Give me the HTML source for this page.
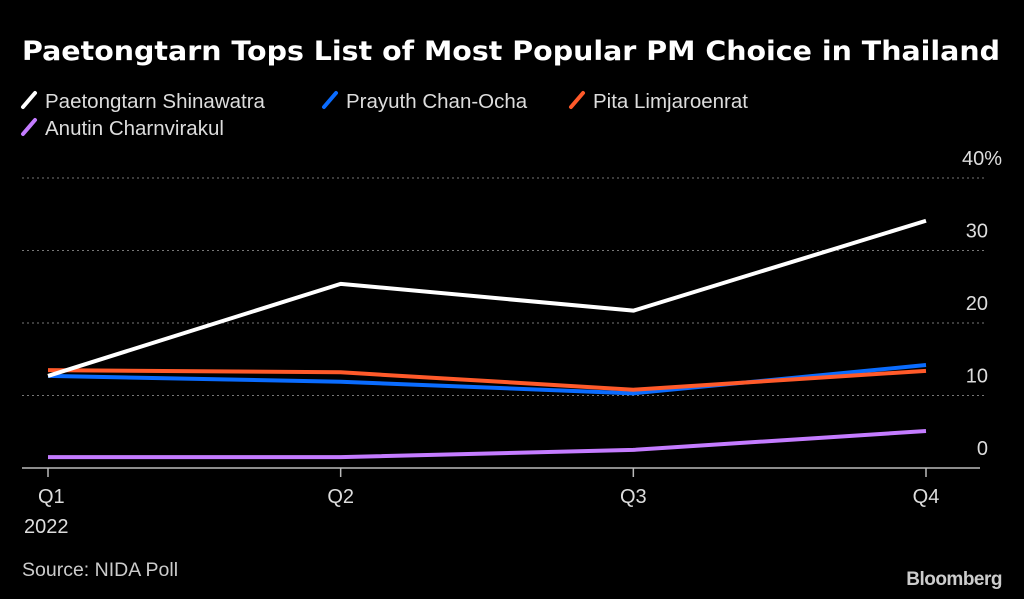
<!DOCTYPE html>
<html><head><meta charset="utf-8"><style>
body{margin:0;background:#000;width:1024px;height:599px;overflow:hidden;font-family:"Liberation Sans",sans-serif;color:#ddd}
</style></head><body>
<svg width="1024" height="599" style="position:absolute;left:0;top:0">
<text x="22" y="60" font-family="DejaVu Sans, sans-serif" font-weight="bold" font-size="27" fill="#fff" textLength="978" lengthAdjust="spacingAndGlyphs">Paetongtarn Tops List of Most Popular PM Choice in Thailand</text>
<g id="legend" font-family="Liberation Sans, sans-serif" font-size="20.5" fill="#ddd"></g>
<g id="grid"></g><g id="lines"></g>
<text x="22" y="576" font-size="19.5" fill="#ccc" font-family="Liberation Sans, sans-serif">Source: NIDA Poll</text>
<text x="1002" y="585" text-anchor="end" font-size="19" font-weight="bold" fill="#ccc" font-family="Liberation Sans, sans-serif" letter-spacing="-0.5">Bloomberg</text>
</svg>
<script>
const categories=["Q1","Q2","Q3","Q4"];
const yTicks=[0,10,20,30,40];
const seriesNames=["Paetongtarn Shinawatra","Prayuth Chan-Ocha","Pita Limjaroenrat","Anutin Charnvirakul"];
const paetongtarn=[12.7,25.4,21.7,34.1];
const prayuth=[12.7,11.9,10.3,14.2];
const pita=[13.5,13.2,10.8,13.4];
const anutin=[1.5,1.5,2.5,5.1];
const colors=["#ffffff","#0a6cff","#ff5a2a","#c47cff"];
const NS="http://www.w3.org/2000/svg";
function X(i){return 48+i*(926-48)/3;}
function Y(v){return 468-v*7.25;}
function mk(t,a,p){const e=document.createElementNS(NS,t);for(const k in a)e.setAttribute(k,a[k]);p.appendChild(e);return e;}
const grid=document.getElementById('grid');
yTicks.forEach(v=>{
 if(v>0){const l=mk('line',{x1:22,x2:987,y1:Y(v),y2:Y(v),stroke:'#777','stroke-dasharray':'2,3','stroke-width':1},grid);
 
 }
 const t=mk('text',{x:v===40?1002:988,y:Y(v)-13,'text-anchor':'end','font-size':20,fill:'#ddd','font-family':'Liberation Sans, sans-serif'},grid);
 t.textContent=v===40?'40%':String(v);
 
 
});
const base=mk('line',{x1:22,x2:980,y1:468,y2:468,stroke:'#bbb','stroke-width':1.5},grid);


categories.forEach((c,i)=>{
 const tk=mk('line',{x1:X(i),x2:X(i),y1:468,y2:477,stroke:'#bbb','stroke-width':1.5},grid);
 
 
 const t=mk('text',{x:X(i)+(i==0?-10:0),y:503,'text-anchor':i==0?'start':'middle','font-size':20,fill:'#ddd','font-family':'Liberation Sans, sans-serif'},grid);
 t.textContent=c;
 
 
});
const yr=mk('text',{x:24,y:533,'font-size':20,fill:'#ddd','font-family':'Liberation Sans, sans-serif'},grid);
yr.textContent='2022';


const data=[paetongtarn,prayuth,pita,anutin];
const lines=document.getElementById('lines');
[3,1,2,0].forEach(s=>{
 const p=mk('polyline',{points:data[s].map((v,i)=>X(i)+','+Y(v)).join(' '),fill:'none',stroke:colors[s],'stroke-width':4,'stroke-linejoin':'round'},lines);
 
 
});
const lg=document.getElementById('legend');
const pos=[[22,102],[323,102],[570,102],[22,129]];
seriesNames.forEach((n,s)=>{
 const [x,y]=pos[s];
 const g=mk('g',{},lg);
 
 
 mk('line',{x1:x+1,y1:y+5,x2:x+13,y2:y-9,stroke:colors[s],'stroke-width':4,'stroke-linecap':'round'},g);
 const t=mk('text',{x:x+23,y:y+6},g);t.textContent=n;
});
</script>
</body></html>
